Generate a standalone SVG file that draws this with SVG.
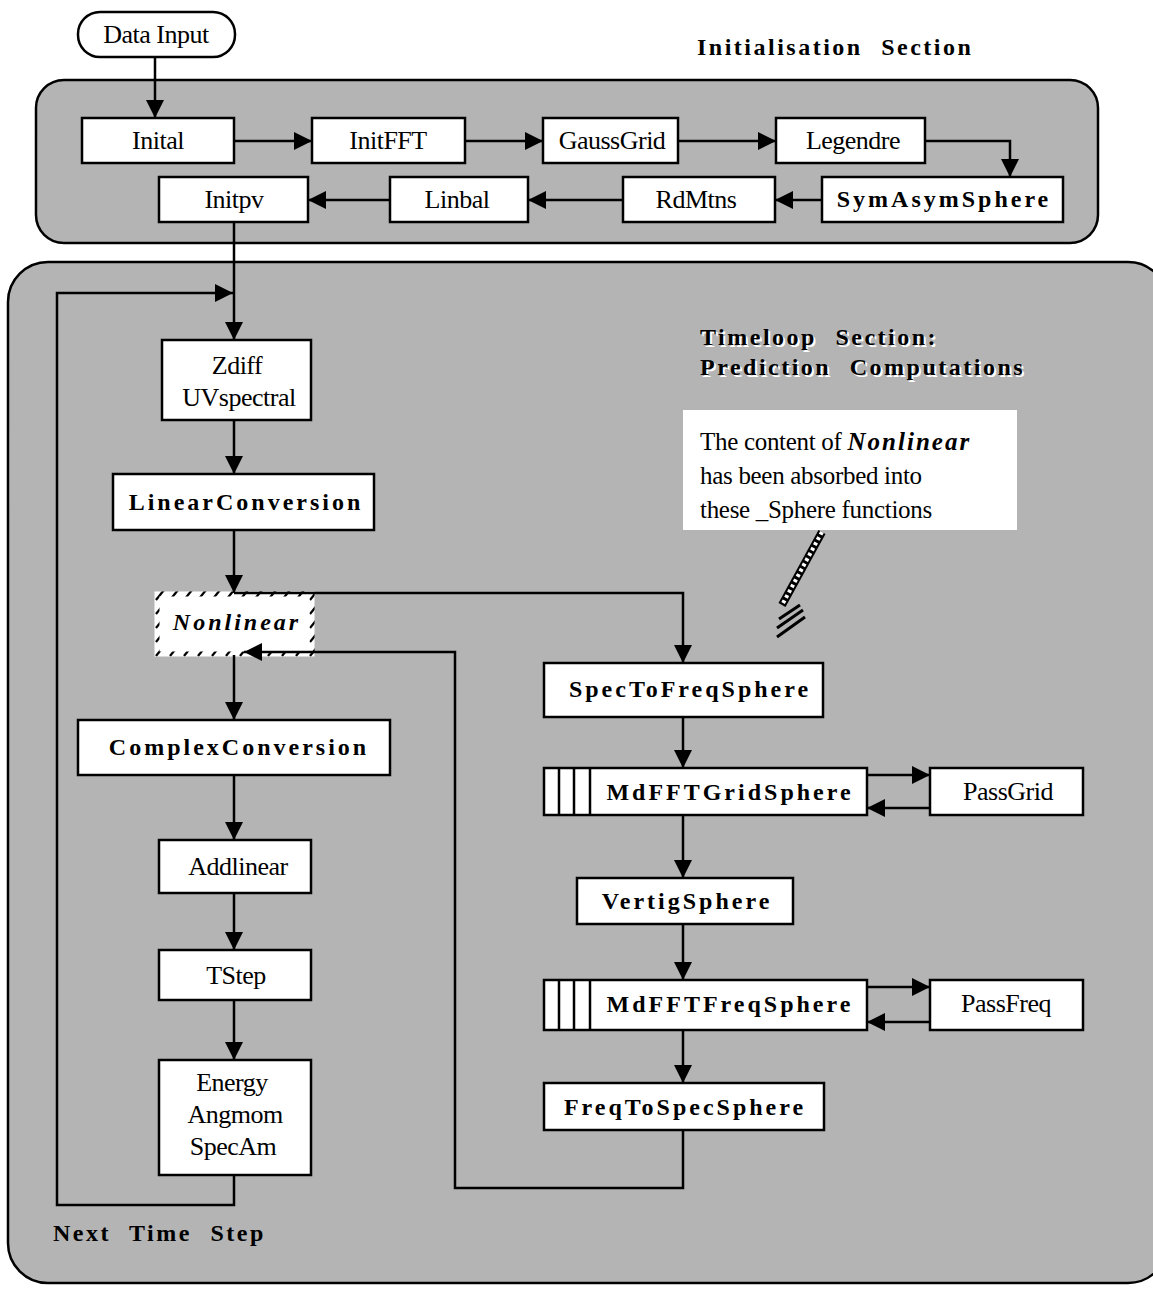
<svg xmlns="http://www.w3.org/2000/svg" width="1153" height="1291" viewBox="0 0 1153 1291">
<defs>
<pattern id="diag" width="14" height="14" patternUnits="userSpaceOnUse"><rect width="14" height="14" fill="#fff"/><path d="M2,12 L10,2" stroke="#000" stroke-width="2.2"/></pattern>
<marker id="ah" viewBox="0 0 10 10" refX="10" refY="5" markerWidth="20" markerHeight="18" markerUnits="userSpaceOnUse" orient="auto"><path d="M0,0 L10,5 L0,10 z" fill="#000"/></marker>
<style>
.box{fill:#fff;stroke:#000;stroke-width:2.5}
.panel{fill:#b4b4b4;stroke:#000;stroke-width:2.5}
.t{font-family:"Liberation Serif","Times New Roman",serif;font-size:26px;fill:#000;text-anchor:middle;letter-spacing:-0.5px}
.b{font-family:"Liberation Serif","Times New Roman",serif;font-size:24px;font-weight:bold;fill:#000;text-anchor:middle;letter-spacing:3px}
.h{font-family:"Liberation Serif","Times New Roman",serif;font-size:24px;font-weight:bold;fill:#000;letter-spacing:2.5px;word-spacing:10px}
.n{font-family:"Liberation Serif","Times New Roman",serif;font-size:25px;fill:#000;letter-spacing:-0.3px}
.c{fill:none;stroke:#000;stroke-width:2.5}
.a{marker-end:url(#ah)}
</style>
</defs>
<rect width="1153" height="1291" fill="#fff"/>
<g id="initPanel"><rect class="panel" x="36" y="80" width="1062" height="163" rx="28"/></g>
<g id="loopPanel"><rect class="panel" x="8" y="262" width="1160" height="1021" rx="40"/></g>
<text class="h" x="697" y="55">Initialisation  Section</text>
<g id="loopTitle">
<text class="h" x="702" y="347" style="fill:#fff">Timeloop  Section:</text>
<text class="h" x="700" y="345">Timeloop  Section:</text>
<text class="h" x="702" y="377" style="fill:#fff">Prediction  Computations</text>
<text class="h" x="700" y="375">Prediction  Computations</text>
</g>
<g id="dataInput"><rect class="box" x="78" y="12" width="157" height="45" rx="22"/><text class="t" x="156" y="43">Data Input</text></g>
<g id="inital"><rect class="box" x="82" y="118" width="152" height="45"/><text class="t" x="158" y="149">Inital</text></g>
<g id="initfft"><rect class="box" x="312" y="118" width="153" height="45"/><text class="t" x="388" y="149">InitFFT</text></g>
<g id="gaussgrid"><rect class="box" x="543" y="118" width="135" height="45"/><text class="t" x="612" y="149">GaussGrid</text></g>
<g id="legendre"><rect class="box" x="776" y="118" width="149" height="45"/><text class="t" x="853" y="149">Legendre</text></g>
<g id="symasym"><rect class="box" x="822" y="177" width="241" height="45"/><text class="b" x="944" y="207">SymAsymSphere</text></g>
<g id="rdmtns"><rect class="box" x="623" y="177" width="152" height="45"/><text class="t" x="696" y="208">RdMtns</text></g>
<g id="linbal"><rect class="box" x="390" y="177" width="138" height="45"/><text class="t" x="457" y="208">Linbal</text></g>
<g id="initpv"><rect class="box" x="159" y="177" width="149" height="45"/><text class="t" x="234" y="208">Initpv</text></g>
<g id="zdiff"><rect class="box" x="162" y="340" width="149" height="80"/><text class="t" x="237" y="374">Zdiff</text><text class="t" x="239" y="406">UVspectral</text></g>
<g id="linearconv"><rect class="box" x="113" y="474" width="261" height="56"/><text class="b" x="246" y="510">LinearConversion</text></g>
<g id="nonlinear"><rect x="157" y="594" width="155" height="60" fill="#fff" stroke="url(#diag)" stroke-width="5"/><text class="b" x="237" y="630" style="font-style:italic">Nonlinear</text></g>
<g id="complexconv"><rect class="box" x="78" y="720" width="312" height="55"/><text class="b" x="239" y="755">ComplexConversion</text></g>
<g id="addlinear"><rect class="box" x="159" y="840" width="152" height="53"/><text class="t" x="238" y="875">Addlinear</text></g>
<g id="tstep"><rect class="box" x="159" y="950" width="152" height="50"/><text class="t" x="236" y="984">TStep</text></g>
<g id="energy"><rect class="box" x="159" y="1060" width="152" height="115"/><text class="t" x="232" y="1091">Energy</text><text class="t" x="235" y="1123">Angmom</text><text class="t" x="233" y="1155">SpecAm</text></g>
<g id="spectofreq"><rect class="box" x="544" y="663" width="279" height="54"/><text class="b" x="690" y="697">SpecToFreqSphere</text></g>
<g id="mdfftgrid"><rect class="box" x="544" y="768" width="323" height="47"/><path class="c" d="M559,768 V815 M574,768 V815 M590,768 V815"/><text class="b" x="730" y="800">MdFFTGridSphere</text></g>
<g id="passgrid"><rect class="box" x="930" y="768" width="153" height="47"/><text class="t" x="1008" y="800">PassGrid</text></g>
<g id="vertig"><rect class="box" x="577" y="878" width="216" height="46"/><text class="b" x="687" y="909">VertigSphere</text></g>
<g id="mdfftfreq"><rect class="box" x="544" y="980" width="323" height="50"/><path class="c" d="M559,980 V1030 M574,980 V1030 M590,980 V1030"/><text class="b" x="730" y="1012">MdFFTFreqSphere</text></g>
<g id="passfreq"><rect class="box" x="930" y="980" width="153" height="50"/><text class="t" x="1006" y="1012">PassFreq</text></g>
<g id="freqtospec"><rect class="box" x="544" y="1083" width="280" height="47"/><text class="b" x="685" y="1115">FreqToSpecSphere</text></g>
<g id="connectors">
<path class="c a" d="M155,57 V118"/>
<path class="c a" d="M234,141 H312"/>
<path class="c a" d="M465,141 H543"/>
<path class="c a" d="M678,141 H776"/>
<path class="c a" d="M925,141 H1010 V177"/>
<path class="c a" d="M822,200 H775"/>
<path class="c a" d="M623,200 H528"/>
<path class="c a" d="M390,200 H308"/>
<path class="c a" d="M234,222 V340"/>
<path class="c a" d="M234,1175 V1205 H57 V293 H233"/>
<path class="c a" d="M234,420 V474"/>
<path class="c a" d="M234,530 V593"/>
<path class="c" d="M234,593 H312"/>
<path class="c a" d="M312,593 H683 V663"/>
<path class="c a" d="M234,655 V720"/>
<path class="c a" d="M234,775 V840"/>
<path class="c a" d="M234,893 V950"/>
<path class="c a" d="M234,1000 V1060"/>
<path class="c a" d="M683,717 V768"/>
<path class="c a" d="M867,775 H930"/>
<path class="c a" d="M930,808 H867"/>
<path class="c a" d="M683,815 V878"/>
<path class="c a" d="M683,924 V980"/>
<path class="c a" d="M867,987 H930"/>
<path class="c a" d="M930,1022 H867"/>
<path class="c a" d="M683,1030 V1083"/>
<path class="c a" d="M683,1130 V1188 H455 V652 H244"/>
</g>
<g id="note">
<rect x="683" y="410" width="334" height="120" fill="#fff"/>
<text class="n" x="700" y="450">The content of <tspan font-weight="bold" font-style="italic" letter-spacing="2">Nonlinear</tspan></text>
<text class="n" x="700" y="484">has been absorbed into</text>
<text class="n" x="700" y="518">these _Sphere functions</text>
<path d="M822,532 L782,605" stroke="#000" stroke-width="8" fill="none"/>
<path d="M822,532 L782,605" stroke="#fff" stroke-width="4" stroke-dasharray="3 3" fill="none"/>
<path d="M777,637 L805,617 M777,628 L803,610 M779,619 L800,605" stroke="#000" stroke-width="3" fill="none"/>
</g>
<text class="h" x="53" y="1241">Next  Time  Step</text>
</svg>
